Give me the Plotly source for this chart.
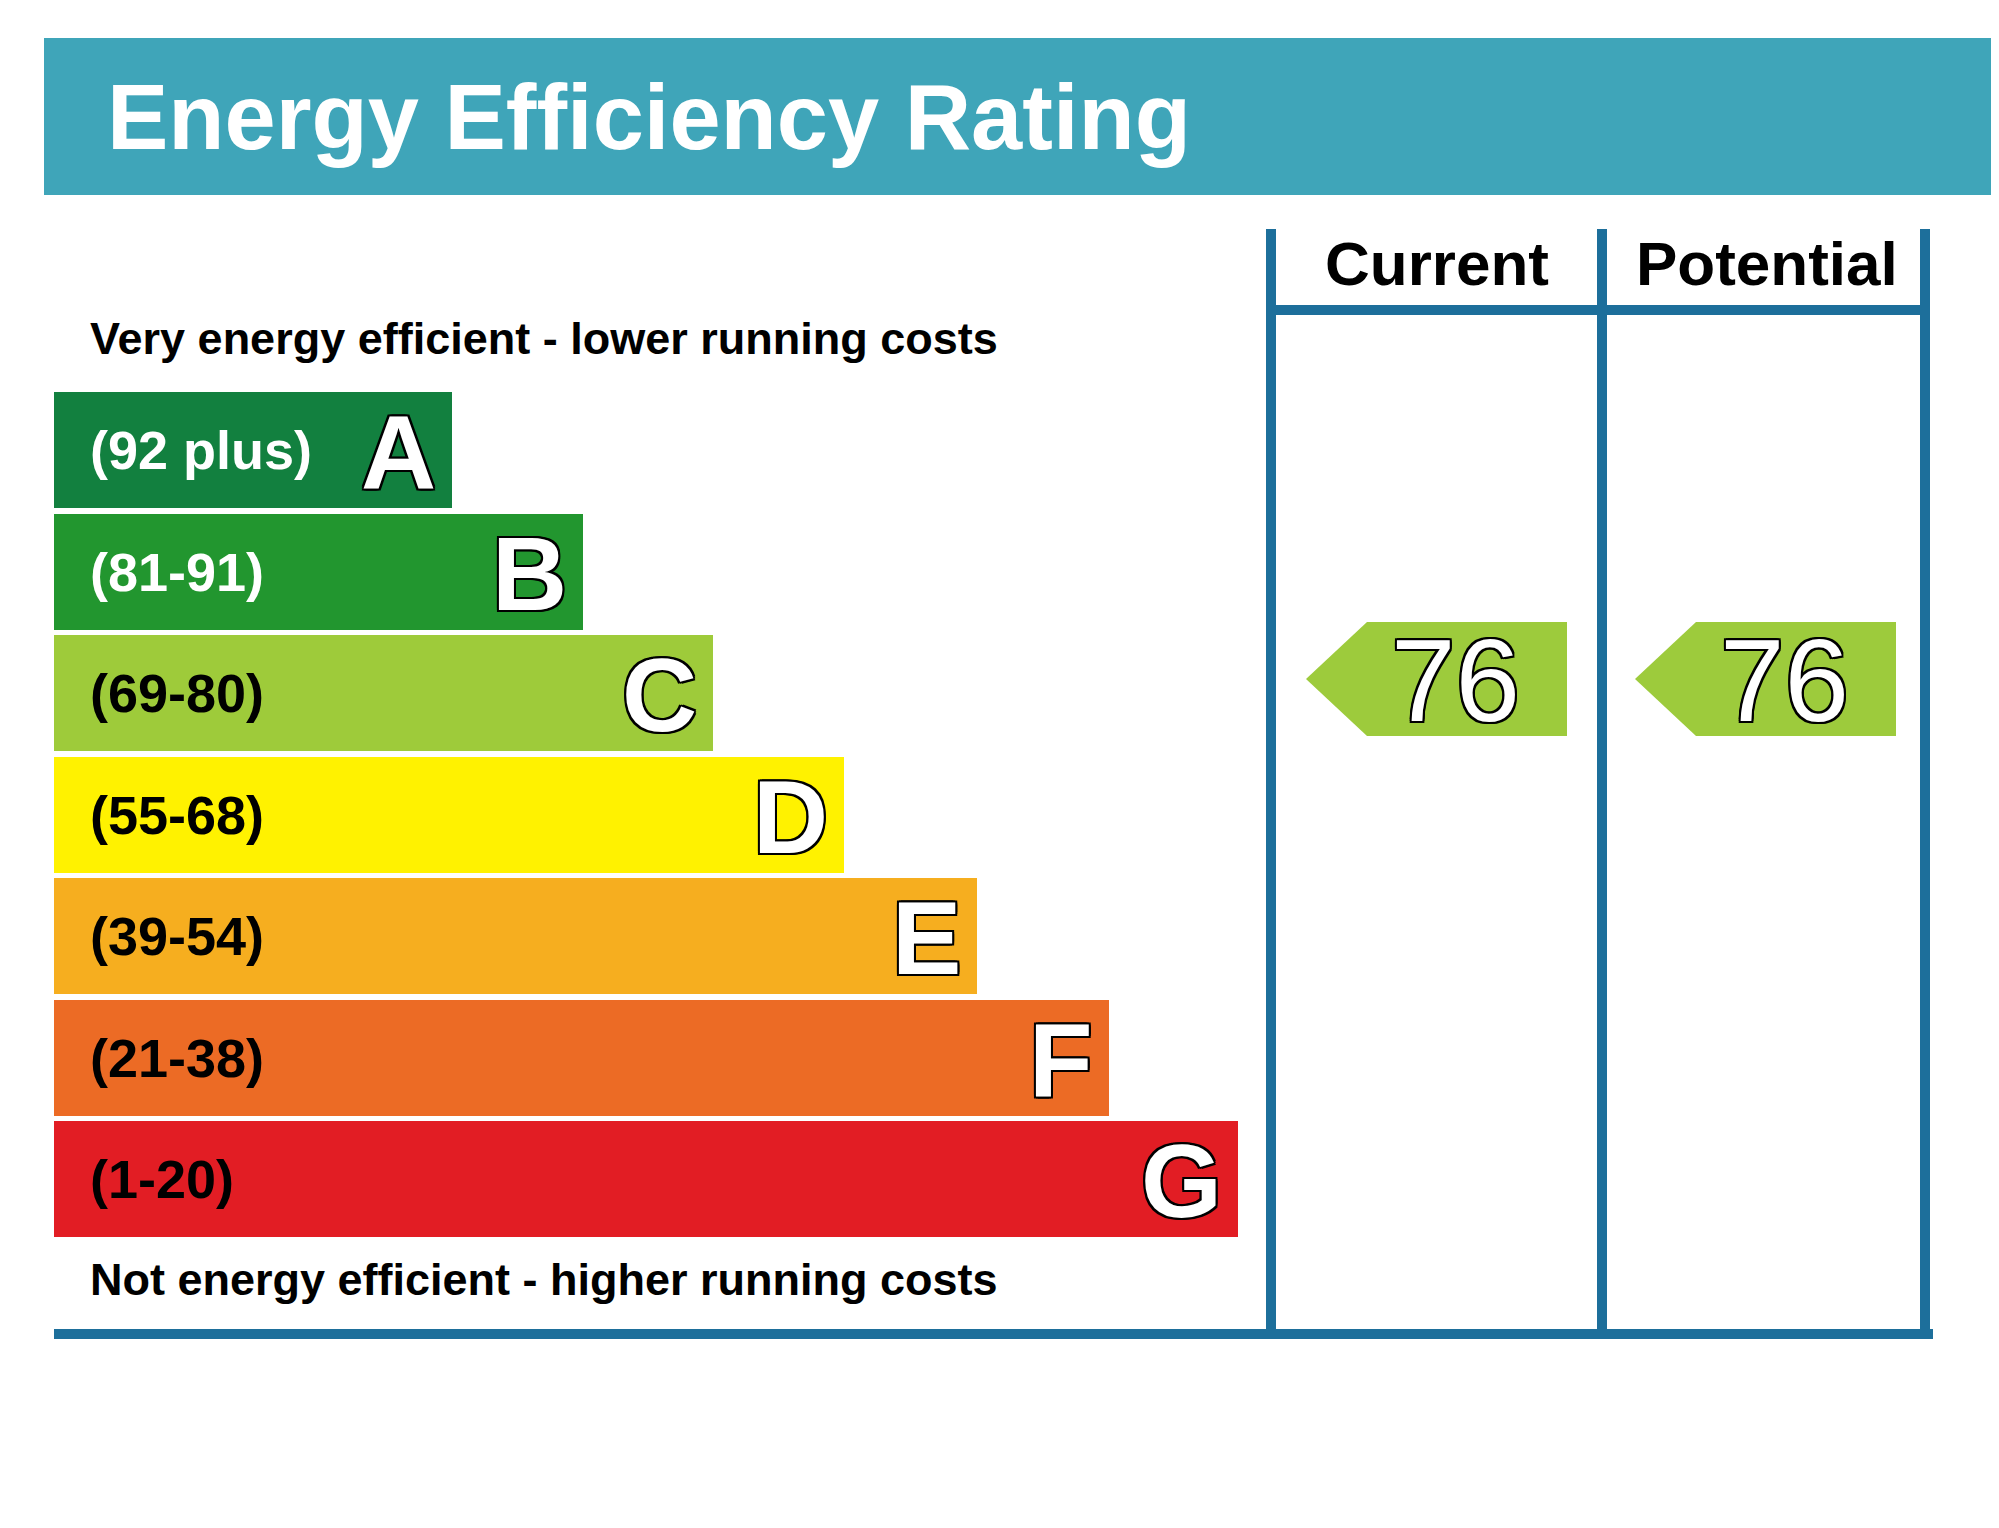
import plotly.graph_objects as go

bands = ["A", "B", "C", "D", "E", "F", "G"]
ranges = ["(92 plus)", "(81-91)", "(69-80)", "(55-68)", "(39-54)", "(21-38)", "(1-20)"]
colors = ["#12803f", "#22962f", "#9ecb3a", "#fff200", "#f6ae1f", "#ec6b25", "#e21d24"]
label_colors = ["white", "white", "black", "black", "black", "black", "black"]
bar_lengths = [398, 529, 659, 790, 923, 1055, 1184]
current_value = 76
potential_value = 76
current_band = "C"
potential_band = "C"
title = "Energy Efficiency Rating"
top_note = "Very energy efficient - lower running costs"
bottom_note = "Not energy efficient - higher running costs"

W, H = 1999, 1528
DX, DY = 9, 8
x0 = 55
row0, step, bh = 450, 121.5, 116
ys = [row0 + i * step for i in range(len(bands))]
FONT = "Liberation Sans, Arial, sans-serif"
LINE = "#1d6f9b"
outline = "2px 0 0 #000, -2px 0 0 #000, 0 2px 0 #000, 0 -2px 0 #000, 2px 2px 0 #000, -2px -2px 0 #000, 2px -2px 0 #000, -2px 2px 0 #000"

fig = go.Figure()
fig.add_trace(go.Bar(orientation="h", y=ys, x=bar_lengths, base=x0, width=bh,
                     marker=dict(color=colors, line=dict(width=0)), hoverinfo="skip"))

ann = []
for i, b in enumerate(bands):
    ann.append(dict(x=89, y=ys[i], text="<b>%s</b>" % ranges[i], xanchor="left", showarrow=False,
                    font=dict(family=FONT, size=54, color=label_colors[i])))
    ann.append(dict(x=x0 + bar_lengths[i] - 14, y=ys[i] + 2, text="<b>%s</b>" % b, xanchor="right", showarrow=False,
                    font=dict(family=FONT, size=104, color="white", shadow=outline)))

def arrow(value, band, tip_x, right_x, cx):
    i = bands.index(band)
    yc = ys[i] - 14
    h2 = 57
    body = tip_x + 61
    fig.add_trace(go.Scatter(x=[tip_x, body, right_x, right_x, body, tip_x],
                             y=[yc, yc - h2, yc - h2, yc + h2, yc + h2, yc],
                             fill="toself", fillcolor="#9dcb3c", line=dict(width=0),
                             mode="lines", hoverinfo="skip"))
    ann.append(dict(x=cx, y=yc + 2, text=str(value), showarrow=False,
                    font=dict(family=FONT, size=116, color="white", shadow=outline)))

arrow(current_value, current_band, 1307, 1568, 1456)
arrow(potential_value, potential_band, 1636, 1897, 1785)

shapes = [
    dict(type="rect", x0=45, x1=W + 20, y0=38, y1=195, fillcolor="#3fa5b9", line=dict(width=0), layer="below"),
    dict(type="line", x0=x0, x1=1934, y0=1334, y1=1334, line=dict(color=LINE, width=10)),
    dict(type="line", x0=1272, x1=1926, y0=310, y1=310, line=dict(color=LINE, width=10)),
]
for xv in [1272, 1603, 1926]:
    shapes.append(dict(type="line", x0=xv, x1=xv, y0=229, y1=1338, line=dict(color=LINE, width=10)))

ann += [
    dict(x=106, y=117, text="<b>%s</b>" % title, xanchor="left", showarrow=False,
         font=dict(family=FONT, size=92, color="white")),
    dict(x=1438, y=263, text="<b>Current</b>", showarrow=False, font=dict(family=FONT, size=62, color="black")),
    dict(x=1768, y=263, text="<b>Potential</b>", showarrow=False, font=dict(family=FONT, size=62, color="black")),
    dict(x=89, y=338, text="<b>%s</b>" % top_note, xanchor="left", showarrow=False,
         font=dict(family=FONT, size=45, color="black")),
    dict(x=89, y=1279, text="<b>%s</b>" % bottom_note, xanchor="left", showarrow=False,
         font=dict(family=FONT, size=45, color="black")),
]

fig.update_layout(width=W, height=H, margin=dict(l=0, r=0, t=0, b=0),
                  paper_bgcolor="white", plot_bgcolor="white", showlegend=False,
                  xaxis=dict(range=[DX, W + DX], visible=False, fixedrange=True),
                  yaxis=dict(range=[H + DY, DY], visible=False, fixedrange=True),
                  shapes=shapes, annotations=ann, bargap=0)
fig.write_html("out.html")
